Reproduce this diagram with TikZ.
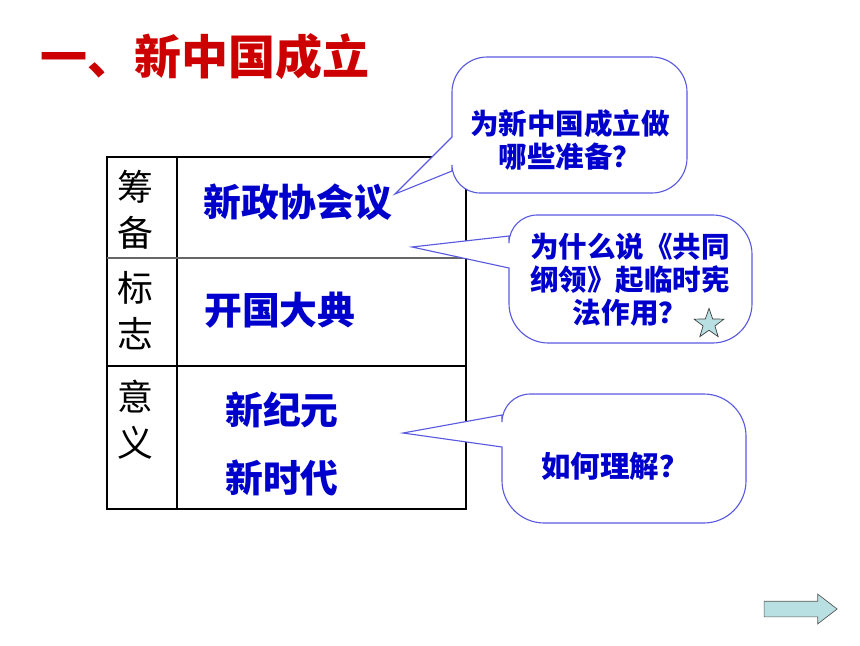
\documentclass[tikz,border=0pt]{standalone}
\usepackage{fontspec}
\setmainfont{Noto Sans CJK SC}
\usetikzlibrary{shapes.geometric,shapes.arrows}
\definecolor{titlered}{RGB}{204,0,0}
\definecolor{textblue}{RGB}{0,0,204}
\definecolor{bubbleline}{RGB}{90,90,225}
\definecolor{paleblue}{RGB}{184,224,226}

\begin{document}
\begin{tikzpicture}[x=0.025cm,y=-0.025cm,
	bubble/.style={draw=bubbleline,fill=white,line width=0.8pt},
	answer/.style={anchor=west,inner sep=0pt,text=textblue,font=\fontsize{26.9}{30}\selectfont\bfseries},
	rowlabel/.style={align=center,inner sep=0pt,font=\fontsize{25.5}{32.7}\selectfont},
	question/.style={align=center,inner sep=0pt,text=textblue,font=\fontsize{20.3}{23.5}\selectfont\bfseries}]
		
		\useasboundingbox (0,0) rectangle (860,645);
		
		\node[anchor=west,inner sep=0pt,text=titlered,font=\fontsize{33.4}{36}\selectfont\bfseries] (title) at (40,57) {一、新中国成立};
		
		% table
		\draw[line width=1.8pt] (107,157) rectangle (466,509);
		\draw[line width=1pt] (177,157) -- (177,509);
		\draw[line width=1.2pt,black!60] (107,258) -- (466,258);
		\draw[line width=1pt] (107,366) -- (466,366);
		
		\node[rowlabel] (prep) at (135,210) {筹\\备};
		\node[rowlabel] (sign) at (135,310.5) {标\\志};
		\node[rowlabel] (mean) at (135,419.5) {意\\义};
		
		\node[answer] (cppcc) at (203,202) {新政协会议};
		\node[answer] (ceremony) at (204,310) {开国大典};
		\node[answer] (era) at (225,410) {新纪元};
		\node[answer] (times) at (225,478) {新时代};
		
		% callouts
		\draw[bubble] (452,171) [rounded corners=20] -- (452,193) [rounded corners=25] -- (687,193) -- (687,57) -- (452,57) [sharp corners] -- (452,137) -- (395,194) -- cycle;
		\node[question] (q1) at (570,140) {为新中国成立做\\哪些准备？};
		
		\draw[bubble] (509,268) [rounded corners=28] -- (509,343) -- (752,343) -- (752,215) [rounded corners=20] -- (509,215) [sharp corners] -- (509,236) -- (412,247) -- cycle;
		\node[question] (q2) at (630,280) {为什么说《共同\\纲领》起临时宪\\法作用？};
		\node[star,star points=5,star point ratio=2.5,minimum size=0.78cm,inner sep=0pt,fill=paleblue,draw=black!75,line width=0.5pt] (star1) at (709,324) {};
		
		\draw[bubble] (502,447) [rounded corners=30] -- (502,523) -- (746,523) -- (746,394) [rounded corners=20] -- (502,394) [sharp corners] -- (502,415) -- (403,433) -- cycle;
		\node[question,font=\fontsize{21}{24}\selectfont\bfseries] (q3) at (615,466) {如何理解？};
		
		% next button
		\node[single arrow,single arrow tip angle=75,single arrow head extend=0.175cm,minimum width=0.725cm,minimum height=1.825cm,inner xsep=0pt,inner ysep=0.1875cm,fill=paleblue,draw=black!65,line width=0.5pt] (next) at (795.5,609) {};
	\end{tikzpicture}
\end{document}
